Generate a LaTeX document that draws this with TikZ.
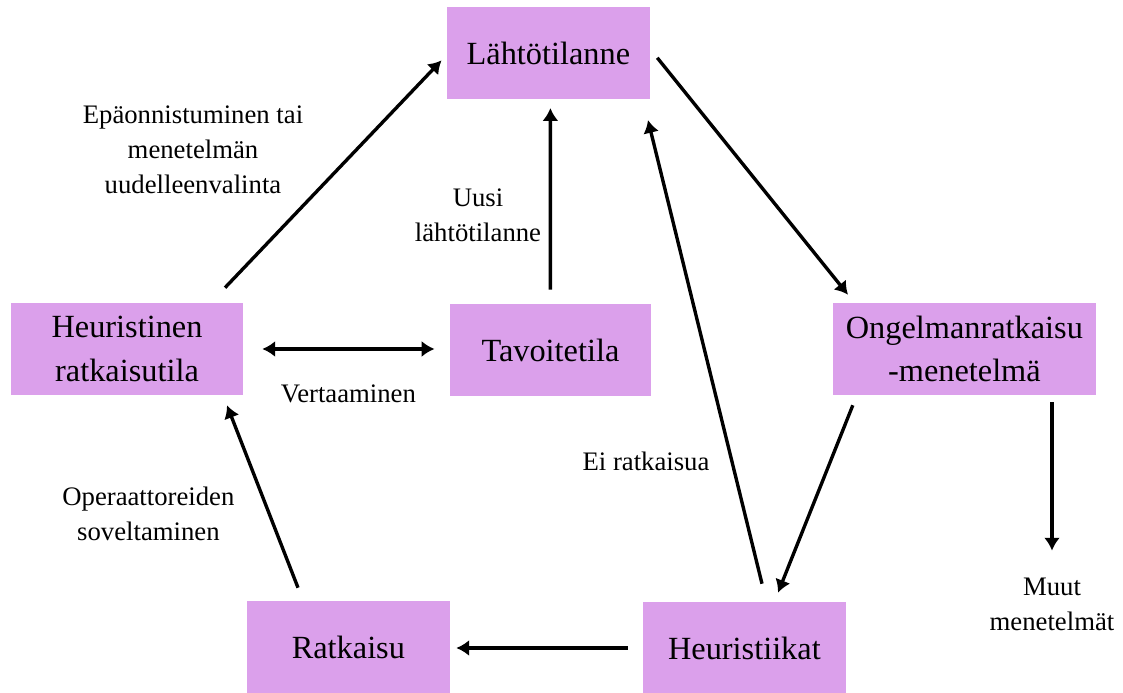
\documentclass[tikz,border=0pt]{standalone}
\usepackage{fontspec}
\setmainfont{Liberation Serif}
\usetikzlibrary{arrows.meta}
\definecolor{laventeli}{RGB}{219,160,235}
\tikzset{
	laatikko/.style={fill=laventeli, minimum height=2.3cm, inner sep=0pt, align=center, font=\fontsize{23}{31}\selectfont},
	teksti/.style={align=center, font=\fontsize{19}{25}\selectfont},
	nuoli/.style={line width=2.4pt, -{Latex[length=3.2mm,width=4mm]}},
}
\begin{document}
\begin{tikzpicture}
		\useasboundingbox (0,0) rectangle (28.075,17.325);
		% Laatikot
		\foreach \n/\x/\y/\w/\t in {lahto/13.71/15.99/5.08/{Lähtötilanne},
			tila/3.175/8.6/5.8/{Heuristinen\\ratkaisutila},
			tavoite/13.76/8.575/5.03/{Tavoitetila},
			menetelma/24.11/8.6/6.58/{Ongelmanratkaisu\\-menetelmä},
			ratkaisu/8.71/1.15/5.08/{Ratkaisu},
			heurt/18.61/1.125/5.08/{Heuristiikat}}
		\node[laatikko, minimum width=\w cm] (\n) at (\x,\y) {\t};
		% Tekstit ilman laatikkoa
		\node[teksti] (epaonn) at (4.825,13.575) {Epäonnistuminen tai\\menetelmän\\uudelleenvalinta};
		\node[teksti] (uusi) at (11.95,11.95) {Uusi\\lähtötilanne};
		\node[teksti] (vert) at (8.71,7.475) {Vertaaminen};
		\node[teksti] (oper) at (3.71,4.475) {Operaattoreiden\\soveltaminen};
		\node[teksti] (eirat) at (16.15,5.8) {Ei ratkaisua};
		\node[teksti] (muut) at (26.3,2.225) {Muut\\menetelmät};
		% Nuolet ylös Lähtötilanteeseen
		\draw[nuoli] ([xshift=2.45cm,yshift=0.375cm]tila.north) -- ([xshift=-0.125cm,yshift=-0.175cm]lahto.west);
		\draw[nuoli] ([yshift=0.35cm]tavoite.north) -- ([xshift=0.05cm,yshift=-0.21cm]lahto.south);
		\draw[nuoli] ([xshift=0.44cm,yshift=0.45cm]heurt.north) -- ([xshift=2.49cm,yshift=-0.51cm]lahto.south);
		% Nuolet oikealla
		\draw[nuoli] ([xshift=0.175cm,yshift=-0.11cm]lahto.east) -- ([xshift=-2.91cm,yshift=0.2cm]menetelma.north);
		\draw[nuoli] ([xshift=-2.79cm,yshift=-0.25cm]menetelma.south) -- ([xshift=0.84cm,yshift=0.225cm]heurt.north);
		\draw[nuoli, shorten <=0.175cm, shorten >=0.55cm] (muut.north |- menetelma.south) -- (muut.north);
		% Nuolet alhaalla ja vasemmalla
		\draw[nuoli, shorten <=0.375cm, shorten >=0.15cm] (heurt.west) -- (heurt.west -| ratkaisu.east);
		\draw[nuoli] ([xshift=-1.26cm,yshift=0.325cm]ratkaisu.north) -- ([xshift=2.5cm,yshift=-0.25cm]tila.south);
		% Vertaaminen: kaksisuuntainen
		\draw[nuoli, {Latex[length=3.2mm,width=4mm]}-{Latex[length=3.2mm,width=4mm]}, shorten <=0.475cm, shorten >=0.375cm] (tila.east) -- (tila.east -| tavoite.west);
	\end{tikzpicture}
\end{document}
